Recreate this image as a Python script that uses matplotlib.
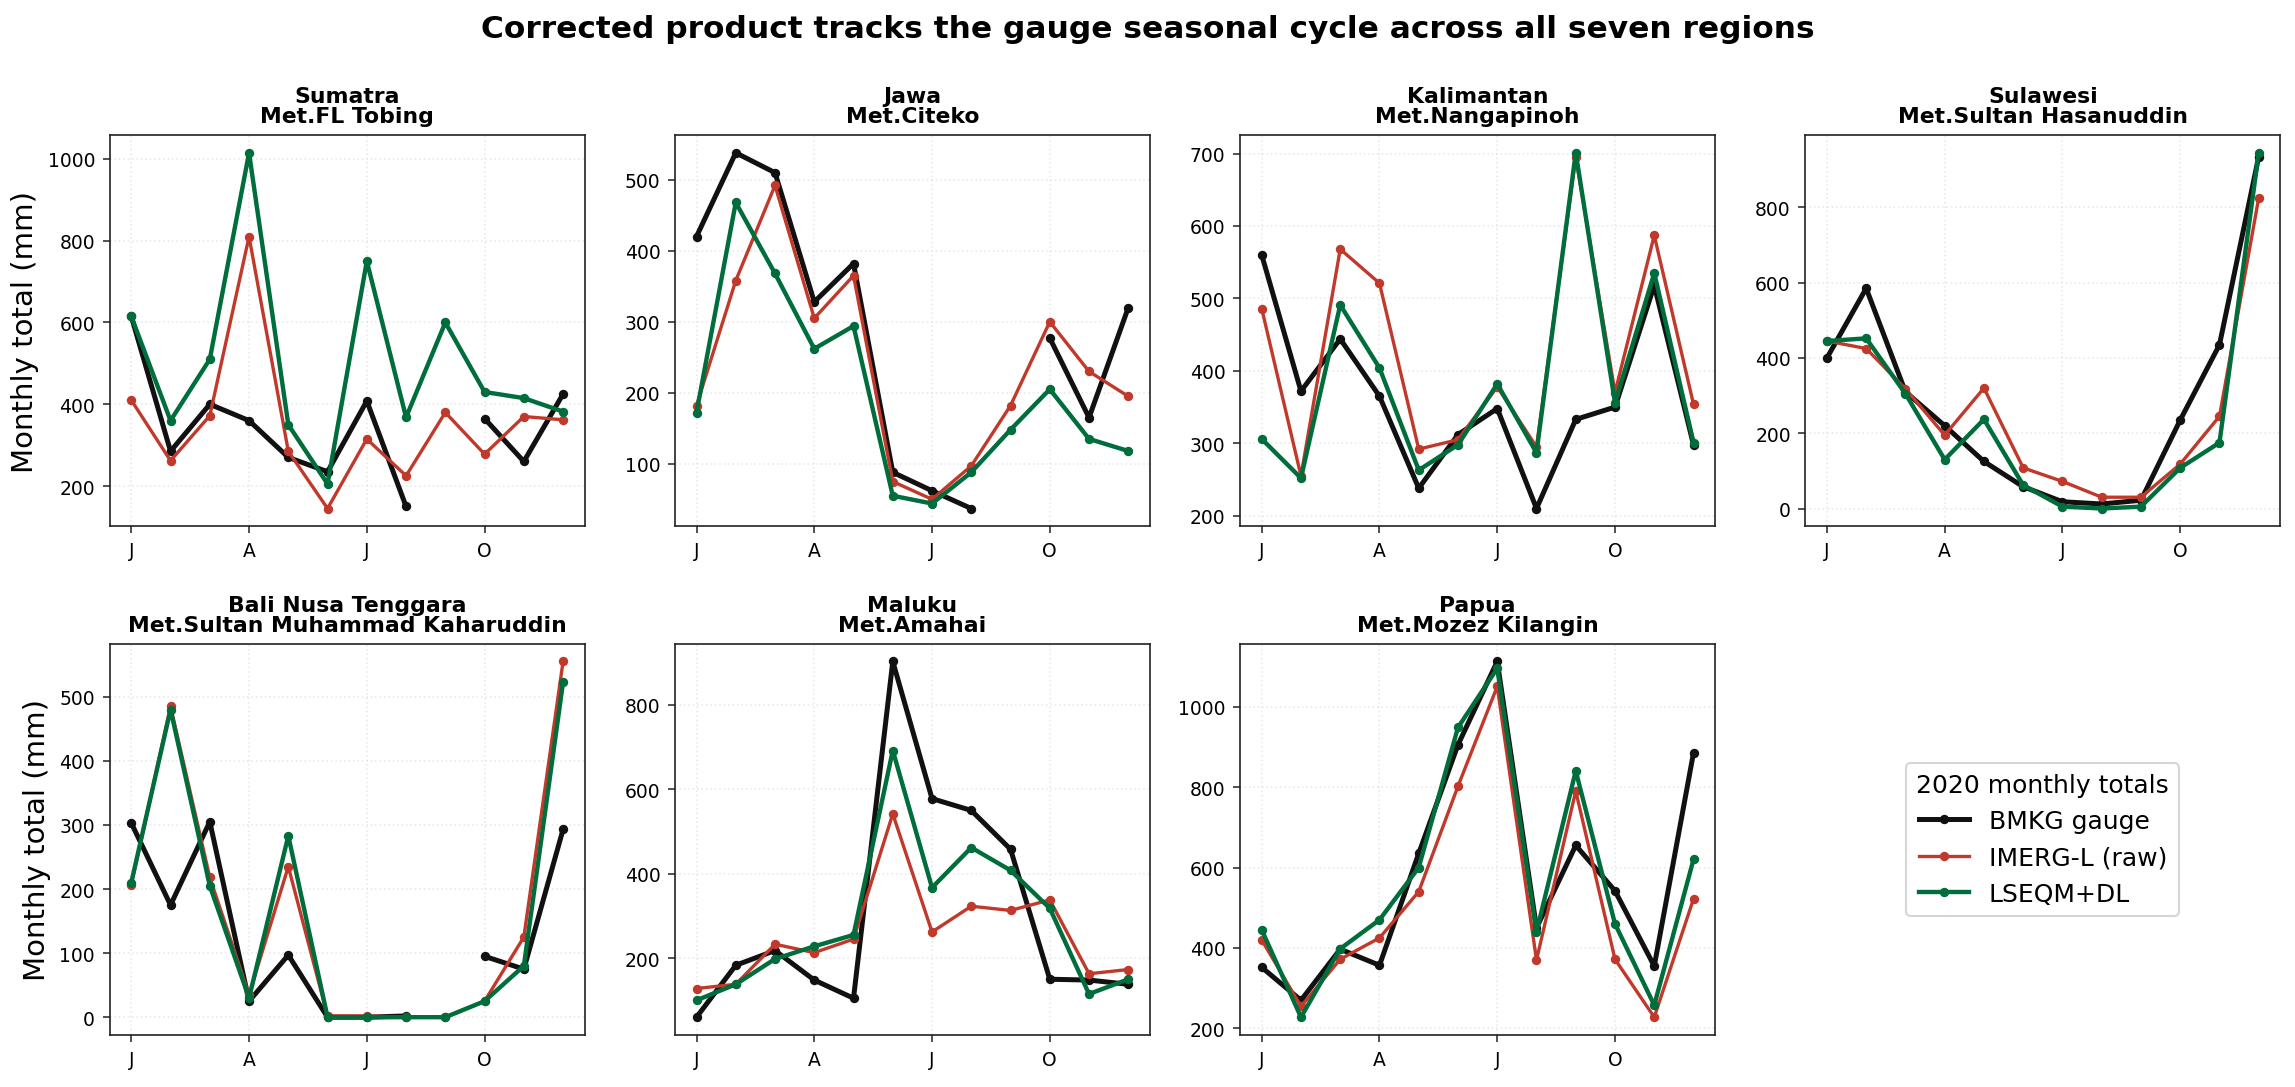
import numpy as np
import matplotlib
matplotlib.use("Agg")
import matplotlib.pyplot as plt

nan = np.nan
month_ticks = [0, 3, 6, 9]
month_labels = ["J", "A", "J", "O"]

regions = ["Sumatra", "Jawa", "Kalimantan", "Sulawesi",
           "Bali Nusa Tenggara", "Maluku", "Papua"]
stations = ["Met.FL Tobing", "Met.Citeko", "Met.Nangapinoh", "Met.Sultan Hasanuddin",
            "Met.Sultan Muhammad Kaharuddin", "Met.Amahai", "Met.Mozez Kilangin"]

bmkg = [
    [615, 285, 400, 360, 270, 235, 408, 150, nan, 365, 260, 425],
    [420, 538, 510, 328, 382, 88, 62, 37, nan, 277, 165, 320],
    [560, 372, 444, 365, 238, 312, 348, 210, 333, 350, 518, 298],
    [400, 585, 310, 220, 125, 58, 18, 12, 22, 235, 435, 935],
    [303, 175, 305, 25, 97, 0, 0, 2, nan, 95, 75, 293],
    [60, 183, 218, 148, 105, 903, 578, 550, 458, 150, 148, 138],
    [352, 270, 397, 357, 635, 905, 1112, 450, 655, 542, 355, 885],
]
imerg = [
    [410, 262, 372, 810, 285, 145, 315, 225, 380, 278, 370, 362],
    [182, 358, 492, 305, 365, 75, 50, 97, 182, 300, 230, 195],
    [486, 255, 568, 521, 292, 305, 378, 295, 695, 370, 587, 354],
    [445, 425, 318, 195, 320, 108, 72, 30, 30, 118, 245, 825],
    [207, 485, 218, 35, 235, 2, 2, 0, 0, 25, 125, 555],
    [128, 138, 233, 213, 245, 542, 262, 323, 313, 338, 163, 173],
    [420, 255, 372, 425, 540, 802, 1050, 370, 790, 372, 228, 522],
]
lseqm = [
    [615, 360, 510, 1015, 350, 205, 750, 368, 600, 430, 415, 382],
    [172, 468, 368, 262, 294, 55, 44, 88, 148, 205, 135, 118],
    [306, 252, 491, 404, 263, 298, 382, 287, 701, 356, 535, 301],
    [445, 452, 305, 130, 237, 62, 5, 0, 5, 108, 175, 945],
    [210, 480, 205, 30, 283, 0, 0, 0, 0, 25, 80, 523],
    [100, 138, 198, 228, 255, 692, 367, 462, 408, 318, 115, 150],
    [445, 228, 398, 470, 600, 948, 1095, 440, 840, 460, 258, 620],
]

C_BMKG = "#111111"
C_IMERG = "#c0392b"
C_LSEQM = "#006d3c"

fig, axes = plt.subplots(2, 4, figsize=(15.3, 7.2533), dpi=150)
fig.subplots_adjust(left=0.0478, right=0.9936, top=0.875, bottom=0.0478,
                    wspace=0.19, hspace=0.30)
months = np.arange(12)

for i, ax in enumerate(axes.flat[:7]):
    ax.plot(months, bmkg[i], color=C_BMKG, lw=2.4, marker="o", ms=3.5,
            label="BMKG gauge", zorder=3)
    ax.plot(months, imerg[i], color=C_IMERG, lw=1.6, marker="o", ms=3.5,
            label="IMERG-L (raw)", zorder=4)
    ax.plot(months, lseqm[i], color=C_LSEQM, lw=2.1, marker="o", ms=3.5,
            label="LSEQM+DL", zorder=5)
    ax.set_title(f"{regions[i]}\n{stations[i]}", fontsize=10.5, fontweight="bold",
                 linespacing=1.0)
    ax.set_xticks(month_ticks)
    ax.set_xticklabels(month_labels)
    ax.tick_params(labelsize=9, color="#333333")
    ax.grid(True, linestyle=":", color="#dddddd", alpha=0.6, lw=0.8)
    for s in ax.spines.values():
        s.set_color("#222222")
    if i % 4 == 0:
        ax.set_ylabel("Monthly total (mm)", fontsize=14)

ax8 = axes.flat[7]
ax8.axis("off")
h, l = axes.flat[0].get_legend_handles_labels()
leg = ax8.legend(h, l, title="2020 monthly totals", loc="center",
                 fontsize=12, title_fontsize=12, frameon=True)
leg.get_frame().set_edgecolor("#cccccc")

fig.suptitle("Corrected product tracks the gauge seasonal cycle across all seven regions",
             fontsize=15, fontweight="bold", y=0.973, va="center")

fig.savefig("out.png", dpi=150)
